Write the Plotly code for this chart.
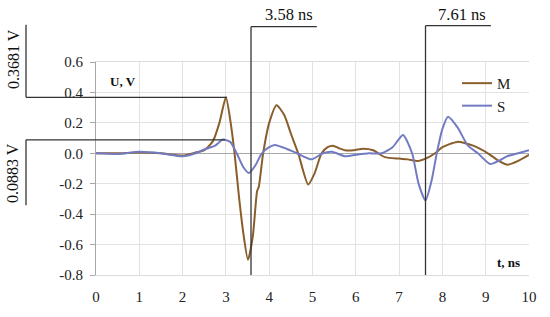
import plotly.graph_objects as go

# ---- data ----
m_t = [0, 0.5, 1.0, 1.5, 2.0, 2.3, 2.5, 2.7, 2.85, 3.0, 3.1, 3.2, 3.3, 3.4, 3.51, 3.62, 3.72, 3.76,
       3.86, 4.0, 4.17, 4.35, 4.5, 4.67, 4.9, 5.05, 5.21, 5.35, 5.47, 5.6, 5.75, 5.95, 6.17, 6.4,
       6.67, 7.0, 7.2, 7.44, 7.65, 7.83, 8.0, 8.34, 8.71, 9.05, 9.3, 9.51, 9.75, 10.0]
m_u = [0, 0.0, 0.005, 0.0, -0.015, 0.005, 0.02, 0.08, 0.2, 0.368, 0.22, 0.0, -0.28, -0.52, -0.70,
       -0.55, -0.25, -0.22, 0.0, 0.2, 0.316, 0.25, 0.13, 0.0, -0.205, -0.13, 0.0, 0.04, 0.05, 0.035,
       0.02, 0.02, 0.03, 0.02, -0.025, -0.035, -0.04, -0.05, -0.03, 0.0, 0.04, 0.075, 0.05, 0.0,
       -0.05, -0.075, -0.05, -0.01]

s_t = [0, 0.5, 1.0, 1.5, 2.0, 2.3, 2.5, 2.75, 2.93, 3.1, 3.25, 3.4, 3.53, 3.68, 3.83, 4.0, 4.13,
       4.4, 4.64, 4.98, 5.24, 5.45, 5.75, 6.0, 6.3, 6.6, 6.85, 7.09, 7.3, 7.45, 7.61, 7.75, 7.87,
       8.0, 8.13, 8.35, 8.59, 8.82, 9.1, 9.3, 9.49, 9.75, 10.0]
s_u = [0, -0.005, 0.01, 0.0, -0.02, 0.0, 0.025, 0.05, 0.09, 0.075, 0.0, -0.09, -0.13, -0.08, 0.0,
       0.04, 0.055, 0.03, 0.0, -0.04, 0.0, 0.01, -0.02, -0.01, 0.0, 0.0, 0.04, 0.12, 0.0, -0.2,
       -0.31, -0.18, 0.0, 0.16, 0.24, 0.17, 0.05, 0.0, -0.07, -0.05, -0.02, 0.0, 0.02]

series_names = ["M", "S"]
x_ticks = [0, 1, 2, 3, 4, 5, 6, 7, 8, 9, 10]
y_ticks = [0.6, 0.4, 0.2, 0.0, -0.2, -0.4, -0.6, -0.8]
y_tick_labels = ["0.6", "0.4", "0.2", "0.0", "-0.2", "-0.4", "-0.6", "-0.8"]

peak_levels = [0.3681, 0.0883]       # V
peak_level_times = [3.02, 2.98]      # ns, where the level lines end
marker_times = [3.58, 7.61]          # ns
marker_ends = [5.1, 9.12]            # ns, end of the label ledge

M_COLOR = "#8A5E2A"
S_COLOR = "#727BC2"
LINE_COLOR = "#333333"
FONT = "Liberation Serif, Times New Roman, serif"

fig = go.Figure()
fig.add_trace(go.Scatter(x=m_t, y=m_u, name=series_names[0], mode="lines",
                         line=dict(color=M_COLOR, width=2, shape="spline", smoothing=0.6)))
fig.add_trace(go.Scatter(x=s_t, y=s_u, name=series_names[1], mode="lines",
                         line=dict(color=S_COLOR, width=2, shape="spline", smoothing=0.6)))

# plot area in pixels
L, R, T, B = 96, 529, 62, 279
W, H = R - L, B - T


def px_x(p):
    return (p - L) / W


def px_y(p):
    return (B - p) / H


shapes = []
x_left = px_x(26)
for i, lvl in enumerate(peak_levels):
    xe = peak_level_times[i] / 10.0
    shapes.append(dict(type="line", xref="paper", yref="y", x0=x_left, x1=xe, y0=lvl, y1=lvl,
                       line=dict(color=LINE_COLOR, width=1.3)))
y_lvl0 = (peak_levels[0] + 0.8) / 1.4
y_lvl1 = (peak_levels[1] + 0.8) / 1.4
shapes.append(dict(type="line", xref="paper", yref="paper", x0=x_left, x1=x_left,
                   y0=y_lvl0, y1=px_y(24), line=dict(color=LINE_COLOR, width=1.3)))
shapes.append(dict(type="line", xref="paper", yref="paper", x0=x_left, x1=x_left,
                   y0=px_y(208), y1=y_lvl1, line=dict(color=LINE_COLOR, width=1.3)))

for t, te, ytop in zip(marker_times, marker_ends, [px_y(26), px_y(25)]):
    shapes.append(dict(type="line", xref="x", yref="paper", x0=t, x1=t, y0=0, y1=ytop,
                       line=dict(color=LINE_COLOR, width=1.3)))
    shapes.append(dict(type="line", xref="x", yref="paper", x0=t, x1=te, y0=ytop, y1=ytop,
                       line=dict(color=LINE_COLOR, width=1.3)))

common = dict(xref="paper", yref="paper", showarrow=False, xanchor="center", yanchor="middle")
annotations = [
    dict(text=f"{peak_levels[0]:.4f} V", x=px_x(13), y=px_y(59), textangle=-90,
         font=dict(family=FONT, size=16, color="#111"), **common),
    dict(text=f"{peak_levels[1]:.4f} V", x=px_x(13), y=px_y(175), textangle=-90,
         font=dict(family=FONT, size=16, color="#111"), **common),
    dict(text=f"{marker_times[0]:.2f} ns", x=px_x(289), y=px_y(14),
         font=dict(family=FONT, size=16.5, color="#111"), **common),
    dict(text=f"{marker_times[1]:.2f} ns", x=px_x(462), y=px_y(14),
         font=dict(family=FONT, size=16.5, color="#111"), **common),
    dict(text="<b>U, V</b>", x=px_x(123), y=px_y(82),
         font=dict(family=FONT, size=13, color="#111"), **common),
    dict(text="<b>t, ns</b>", x=px_x(508), y=px_y(266),
         font=dict(family=FONT, size=13, color="#111"), **common),
]

fig.update_layout(
    width=550, height=317,
    margin=dict(l=L, r=550 - R, t=T, b=317 - B),
    paper_bgcolor="white", plot_bgcolor="white",
    font=dict(family=FONT, size=14, color="#222"),
    shapes=shapes, annotations=annotations,
    showlegend=True,
    legend=dict(x=px_x(457), y=px_y(67), xanchor="left", yanchor="top",
                bgcolor="rgba(0,0,0,0)", font=dict(family=FONT, size=15, color="#222"),
                itemwidth=30, tracegroupgap=0),
)
fig.update_xaxes(range=[0, 10], tickvals=x_ticks, ticktext=[str(v) for v in x_ticks],
                 showgrid=True, gridcolor="#e2e2e2", gridwidth=1,
                 showline=True, linecolor="#dcdcdc", mirror=True, zeroline=False,
                 ticks="", ticklabelstandoff=8,
                 tickfont=dict(family=FONT, size=15, color="#222"))
fig.update_yaxes(range=[-0.8, 0.6], tickvals=y_ticks, ticktext=y_tick_labels,
                 showgrid=True, gridcolor="#e2e2e2", gridwidth=1,
                 showline=True, linecolor="#a8a8a8", zeroline=True, zerolinecolor="#a8a8a8",
                 zerolinewidth=1, ticks="outside", ticklen=5, tickcolor="#a8a8a8",
                 ticklabelstandoff=4,
                 tickfont=dict(family=FONT, size=15, color="#222"))

fig.write_html("out.html", config={"displayModeBar": False},
               post_script="document.body.style.margin='0';")
